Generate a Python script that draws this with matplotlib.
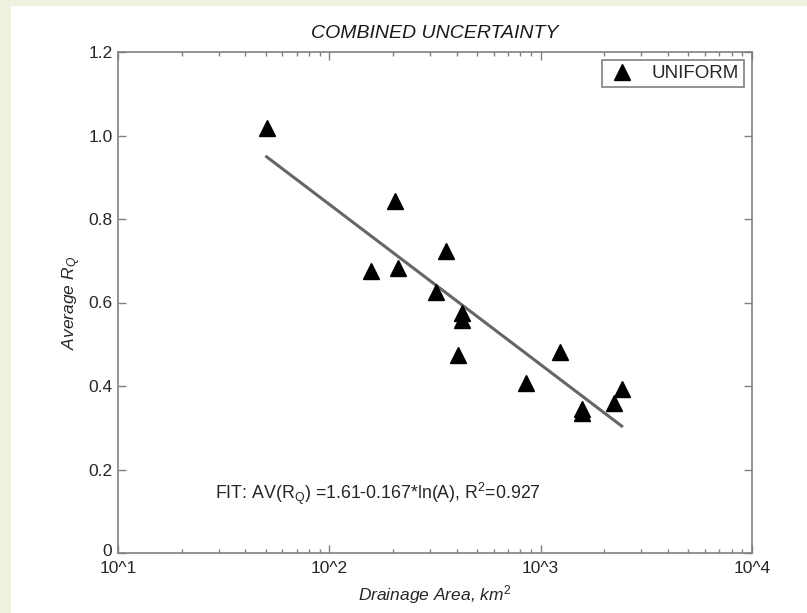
import matplotlib
matplotlib.use("Agg")
import matplotlib.pyplot as plt
from matplotlib.patches import Rectangle
from matplotlib.transforms import ScaledTranslation
from matplotlib.ticker import FixedLocator, LogLocator, NullFormatter

plt.rcParams['font.family'] = ['Liberation Sans', 'DejaVu Sans']
plt.rcParams['mathtext.fontset'] = 'custom'
plt.rcParams['mathtext.rm'] = 'Liberation Sans'
plt.rcParams['mathtext.it'] = 'Liberation Sans:italic'

# values
drainage_area = [50.5, 204.5, 157.5, 212, 355, 319, 423, 423, 405,
                 850, 1239, 1564, 1564, 2224, 2434]
average_rq = [1.017, 0.844, 0.676, 0.682, 0.723, 0.624, 0.574, 0.559, 0.474,
              0.406, 0.482, 0.344, 0.335, 0.359, 0.394]

# fitted line end points
fit_area = [50.5, 2418]
fit_value = [0.949, 0.304]

x_ticks = [10, 100, 1000, 10000]
x_tick_labels = ['10^1', '10^2', '10^3', '10^4']
y_ticks = [0, 0.2, 0.4, 0.6, 0.8, 1.0, 1.2]
y_tick_labels = ['0', '0.2', '0.4', '0.6', '0.8', '1.0', '1.2']

fig = plt.figure(figsize=(8.07, 6.13), dpi=100)
fig.patch.set_facecolor('#edf2df')
# white sheet, leaving the green strip on left and top
fig.patches.append(Rectangle((11 / 807, 0), 1, (613 - 6) / 613,
                             transform=fig.transFigure, facecolor='white',
                             edgecolor='none', zorder=-1))

ax = fig.add_axes([118 / 807, 60 / 613, 634 / 807, 501 / 613])
ax.set_facecolor('white')

ax.plot(fit_area, fit_value, color='#666666', linewidth=2.2, zorder=2)
ax.plot(drainage_area, average_rq, linestyle='none', marker='^',
        markersize=12, color='black', label='UNIFORM', zorder=3)

ax.set_xscale('log')
ax.set_xlim(10, 10000)
ax.set_ylim(0, 1.2)

ax.xaxis.set_major_locator(FixedLocator(x_ticks))
ax.set_xticklabels(x_tick_labels)
ax.xaxis.set_minor_locator(LogLocator(base=10, subs=range(2, 10)))
ax.xaxis.set_minor_formatter(NullFormatter())
ax.set_yticks(y_ticks)
ax.set_yticklabels(y_tick_labels)

ax.tick_params(which='both', direction='in', top=True, right=True,
               colors='#808080', labelcolor='#262626', labelsize=12.5)
ax.tick_params(which='major', length=6, width=1)
ax.tick_params(which='minor', length=3, width=1)
ax.tick_params(axis='x', pad=6)
ax.tick_params(axis='y', pad=4)
for sp in ax.spines.values():
    sp.set_color('#808080')
    sp.set_linewidth(1.2)

# lift the "0" a little so it clears the 10^1 label below it
zero_lbl = ax.get_yticklabels()[0]
zero_lbl.set_transform(zero_lbl.get_transform() +
                       ScaledTranslation(0, 2 / 72, fig.dpi_scale_trans))

ax.set_title('COMBINED UNCERTAINTY', fontsize=14, style='italic',
             color='#1a1a1a', pad=10)
ax.set_xlabel('Drainage Area, km$^2$', fontsize=12.5, style='italic',
              color='#262626', labelpad=5)
ax.set_ylabel('Average R$_Q$', fontsize=12.5, style='italic',
              color='#262626', labelpad=4)

ax.text(0.153, 0.118, 'FIT: AV(R$_\\mathregular{Q}$) =1.61-0.167*ln(A), R$^\\mathregular{2}$=0.927',
        transform=ax.transAxes, fontsize=12.75, color='#262626',
        ha='left', va='center')

leg = ax.legend(loc='upper right', fontsize=13.5, fancybox=False,
                framealpha=1, edgecolor='#808080', borderpad=0.25,
                handletextpad=0.8, borderaxespad=0.45, handlelength=1.6)
leg.get_frame().set_linewidth(1.2)
for t in leg.get_texts():
    t.set_color('#262626')

fig.savefig('out.png', dpi=100)
